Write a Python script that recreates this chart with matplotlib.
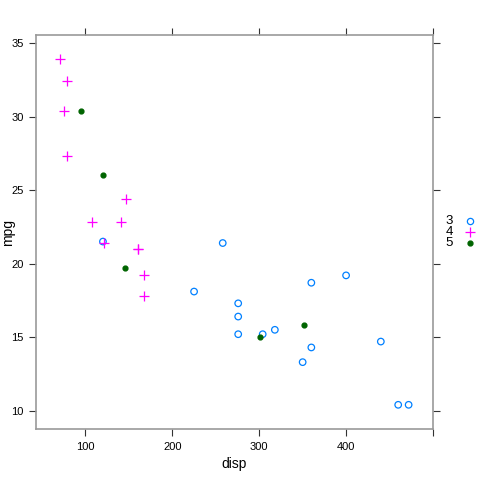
import matplotlib
matplotlib.use("Agg")
import matplotlib.pyplot as plt

plt.rcParams['font.family'] = ['Liberation Sans', 'DejaVu Sans']

# mtcars : disp / mpg par nombre de vitesses
disp_g3 = [258, 360, 225, 360, 275.8, 275.8, 275.8, 472, 460, 440, 120.1, 318, 304, 350, 400]
mpg_g3 = [21.4, 18.7, 18.1, 14.3, 16.4, 17.3, 15.2, 10.4, 10.4, 14.7, 21.5, 15.5, 15.2, 13.3, 19.2]
disp_g4 = [160, 160, 108, 146.7, 140.8, 167.6, 167.6, 78.7, 75.7, 71.1, 79, 121]
mpg_g4 = [21.0, 21.0, 22.8, 24.4, 22.8, 19.2, 17.8, 32.4, 30.4, 33.9, 27.3, 21.4]
disp_g5 = [120.3, 95.1, 351, 145, 301]
mpg_g5 = [26.0, 30.4, 15.8, 19.7, 15.0]

groupes = ['3', '4', '5']
couleurs = ['#0080ff', '#ff00ff', '#006400']

fig = plt.figure(figsize=(4.8, 4.8), dpi=100)
ax = fig.add_axes([36/480, 1 - 429/480, 397/480, 394/480])

ax.scatter(disp_g3, mpg_g3, s=22, facecolors='none', edgecolors=couleurs[0], linewidths=0.9)
ax.scatter(disp_g4, mpg_g4, s=55, marker='+', color=couleurs[1], linewidths=0.9)
ax.scatter(disp_g5, mpg_g5, s=12, marker='o', color=couleurs[2])

# étendue de 7 % comme lattice
tous_x = disp_g3 + disp_g4 + disp_g5
tous_y = mpg_g3 + mpg_g4 + mpg_g5
dx = 0.07 * (max(tous_x) - min(tous_x))
dy = 0.07 * (max(tous_y) - min(tous_y))
ax.set_xlim(min(tous_x) - dx, max(tous_x) + dx)
ax.set_ylim(min(tous_y) - dy, max(tous_y) + dy)
ax.set_xticks([100, 200, 300, 400, 500])
ax.set_xticklabels(['100', '200', '300', '400', ''])
ax.set_yticks([10, 15, 20, 25, 30, 35])
ax.tick_params(direction='out', length=5, width=0.8, labelsize=8, top=True, right=True,
               color='#333333', pad=4)
for s in ax.spines.values():
    s.set_color('#999999')
    s.set_linewidth(1.2)

ax.set_xlabel('disp', fontsize=10)
ax.set_ylabel('mpg', fontsize=10)
ax.xaxis.set_label_coords(0.5, -28/394)
ax.yaxis.set_label_coords(-21/397, 0.5)

# Légende à droite (style lattice)
leg_y = [221, 232, 243]
for g, c, y in zip(groupes, couleurs, leg_y):
    fig.text(449/480, 1 - y/480, g, fontsize=9.5, ha='center', va='center')
fig.add_artist(plt.Line2D([470/480], [1 - 221/480], marker='o', markersize=4.5,
                          markerfacecolor='none', markeredgecolor=couleurs[0], markeredgewidth=0.9,
                          linestyle='none', transform=fig.transFigure))
fig.add_artist(plt.Line2D([470/480], [1 - 232/480], marker='+', markersize=7.5,
                          color=couleurs[1], markeredgewidth=0.9,
                          linestyle='none', transform=fig.transFigure))
fig.add_artist(plt.Line2D([470/480], [1 - 243/480], marker='o', markersize=3.5,
                          color=couleurs[2], linestyle='none', transform=fig.transFigure))

fig.savefig('out.png', dpi=100)
